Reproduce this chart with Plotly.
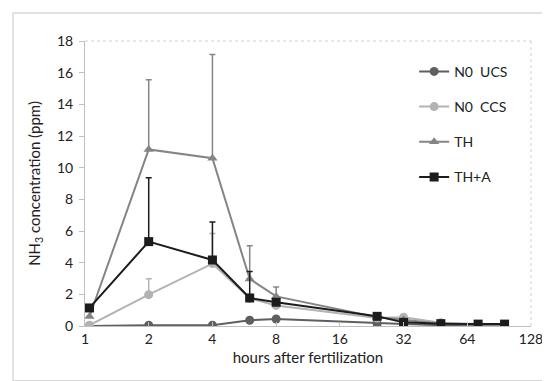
import plotly.graph_objects as go

hours = [1.05, 2, 4, 6, 8, 24, 32, 48, 72, 96]

n0_ucs = [0.0, 0.05, 0.05, 0.36, 0.44, 0.15, 0.12, 0.05, 0.03, 0.03]
n0_ccs = [0.05, 1.98, 3.94, 1.75, 1.3, 0.5, 0.55, 0.2, 0.1, 0.1]
th = [0.6, 11.15, 10.6, 2.97, 1.87, 0.55, 0.4, 0.15, 0.1, 0.1]
th_a = [1.14, 5.33, 4.17, 1.77, 1.5, 0.61, 0.23, 0.15, 0.12, 0.12]

err_ucs = [0, 0, 0, 0, 0, 0, 0, 0, 0, 0]
err_ccs = [0, 1.0, 1.9, 0, 0, 0, 0, 0, 0, 0]
err_th = [0, 4.4, 6.55, 2.1, 0.6, 0, 0, 0, 0, 0]
err_tha = [0, 4.04, 2.4, 1.68, 0, 0, 0, 0, 0, 0]

x_ticks = [1, 2, 4, 8, 16, 32, 64, 128]
y_ticks = [0, 2, 4, 6, 8, 10, 12, 14, 16, 18]

series = [
    ("N0  UCS", n0_ucs, err_ucs, "#5f5f5f", "circle", 9),
    ("N0  CCS", n0_ccs, err_ccs, "#b3b3b3", "circle", 9),
    ("TH", th, err_th, "#858585", "triangle-up", 9),
    ("TH+A", th_a, err_tha, "#1c1c1c", "square", 9),
]

fig = go.Figure()
for i, (name, ys, errs, color, sym, size) in enumerate(series):
    fig.add_trace(go.Scatter(
        x=hours, y=ys, name=name, mode="lines+markers",
        legendgroup=f"g{i}",
        line=dict(color=color, width=2),
        marker=dict(color=color, symbol=sym, size=size),
        error_y=dict(type="data", array=errs, arrayminus=[0] * len(errs),
                     symmetric=False, color=color, thickness=1.5, width=3),
    ))

# outer border and dotted plot border
fig.add_shape(type="rect", xref="paper", yref="paper",
              x0=-0.1614, x1=1.047, y0=-0.192, y1=1.098,
              line=dict(color="#d9d9d9", width=1.5), layer="below")
fig.add_shape(type="line", xref="paper", yref="paper", x0=0, x1=1, y0=1, y1=1,
              line=dict(color="#d0d0d0", width=1, dash="dot"))
fig.add_shape(type="line", xref="paper", yref="paper", x0=1, x1=1, y0=0, y1=1,
              line=dict(color="#d0d0d0", width=1, dash="dot"))

font_family = "Lato, 'Open Sans', sans-serif"

fig.update_layout(
    width=550, height=381,
    margin=dict(l=77, r=27, t=33, b=63),
    paper_bgcolor="white", plot_bgcolor="white",
    font=dict(family=font_family, size=13, color="#222222"),
    showlegend=True,
    legend=dict(x=0.738, y=0.948, xanchor="left", yanchor="top",
                bgcolor="rgba(0,0,0,0)", font=dict(size=14),
                tracegroupgap=14, itemwidth=30),
    xaxis=dict(
        type="log", range=[0, 2.10721], tickvals=x_ticks,
        ticktext=[str(v) for v in x_ticks],
        showgrid=False, zeroline=False,
        showline=True, linecolor="#bfbfbf", linewidth=1,
        ticks="inside", ticklen=4, tickcolor="#bfbfbf",
        tickfont=dict(size=14),
        title=dict(text="hours after fertilization", font=dict(size=15), standoff=6),
    ),
    yaxis=dict(
        range=[0, 18], tickvals=y_ticks,
        showgrid=False, zeroline=False,
        showline=True, linecolor="#bfbfbf", linewidth=1,
        ticks="outside", ticklen=5, tickcolor="#bfbfbf",
        tickfont=dict(size=14), ticklabelstandoff=3,
        title=dict(text="NH<sub>3</sub> concentration (ppm)", font=dict(size=15), standoff=12),
    ),
)

fig.write_html("out.html")
